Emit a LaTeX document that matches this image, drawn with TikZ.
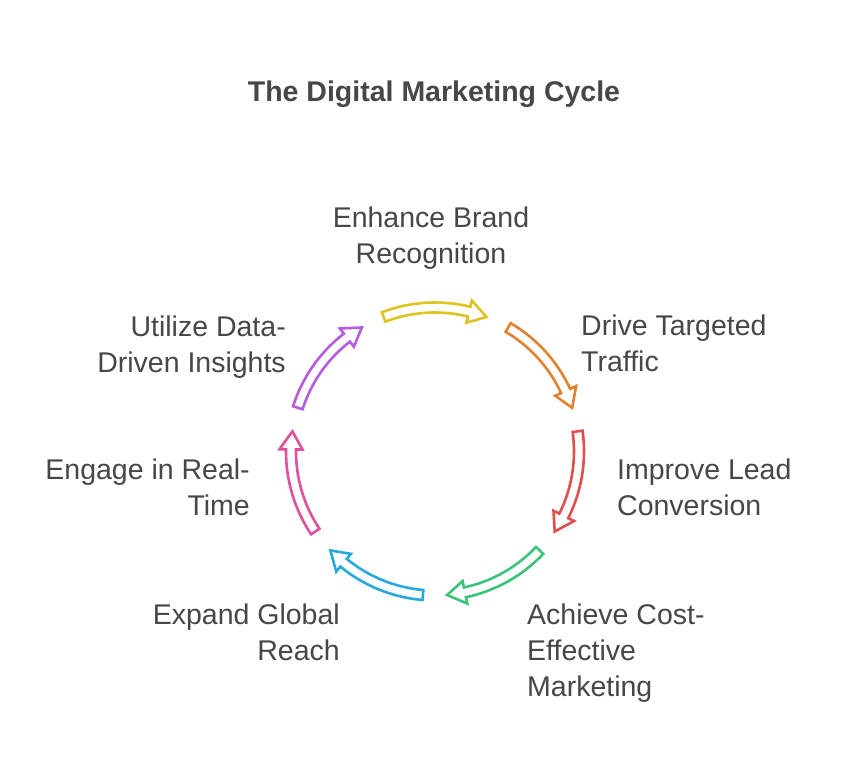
\documentclass[tikz,border=0pt]{standalone}
\usepackage{fontspec}
\setmainfont{Liberation Sans}
\definecolor{txt}{HTML}{474747}
\definecolor{cyellow}{HTML}{DDC41E}
\definecolor{corange}{HTML}{E0822E}
\definecolor{cred}{HTML}{E0504F}
\definecolor{cgreen}{HTML}{3CC47A}
\definecolor{cblue}{HTML}{27A9DB}
\definecolor{cpink}{HTML}{E0509E}
\definecolor{cpurple}{HTML}{B65CE0}
\newcommand\cyclearrow[2]{%
  \draw[arrowline, draw=#2] ({#1+20.9}:149) arc[start angle={#1+20.9}, end angle={#1-13.7}, radius=149]
    -- ({#1-13.7}:155.5) -- ({#1-20.9}:144) -- ({#1-13.7}:132.5) -- ({#1-13.7}:139)
    arc[start angle={#1-13.7}, end angle={#1+20.9}, radius=139] -- cycle;}
\begin{document}
\begin{tikzpicture}[x=1pt,y=1pt,
  arrowline/.style={line width=2.6pt, fill=white, line join=miter},
  lbl/.style={inner sep=0pt, text=txt, font=\fontsize{28.5}{36}\selectfont},
  ttl/.style={inner sep=0pt, text=txt, font=\bfseries\fontsize{28.5}{34}\selectfont}]
\useasboundingbox[fill=white] (0,0) rectangle (849,777);
\node[ttl] (title) at (434,683) {The Digital Marketing Cycle};
\begin{scope}[shift={(435,325.5)}]
  \cyclearrow{90}{cyellow}
  \cyclearrow{38.5714}{corange}
  \cyclearrow{-12.8571}{cred}
  \cyclearrow{-64.2857}{cgreen}
  \cyclearrow{-115.7143}{cblue}
  \cyclearrow{-167.1429}{cpink}
  \cyclearrow{-218.5714}{cpurple}
\end{scope}
\node[lbl, align=center] (brand) at (431,539) {Enhance Brand\\Recognition};
\node[lbl, align=left, anchor=west] (traffic) at (581,433.5) {Drive Targeted\\Traffic};
\node[lbl, align=left, anchor=west] (lead) at (617,289.5) {Improve Lead\\Conversion};
\node[lbl, align=left, anchor=west] (cost) at (527,124) {Achieve Cost-\\Effective\\Marketing};
\node[lbl, align=right, anchor=east] (global) at (340,145) {Expand Global\\Reach};
\node[lbl, align=right, anchor=east] (realtime) at (250,289.5) {Engage in Real-\\Time};
\node[lbl, align=right, anchor=east] (data) at (286,430) {Utilize Data-\\Driven Insights};
\end{tikzpicture}
\end{document}
